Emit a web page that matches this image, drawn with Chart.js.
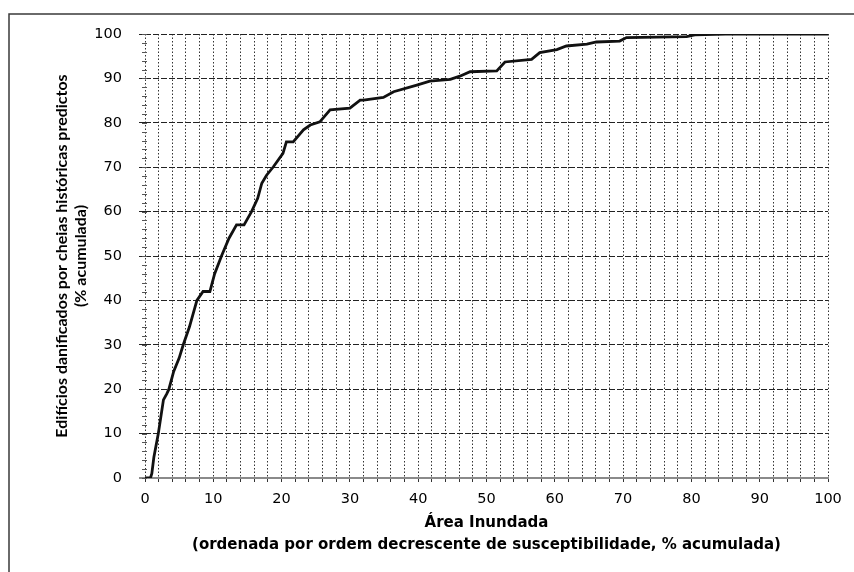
<!DOCTYPE html>
<html>
<head>
<meta charset="utf-8">
<script src="https://cdn.jsdelivr.net/npm/chart.js@4.4.1/dist/chart.umd.min.js"></script>
<style>
  html, body { margin: 0; padding: 0; background: #fff; }
  #wrap { width: 854px; height: 572px; }
</style>
</head>
<body>
<div id="wrap"><canvas id="chart" width="854" height="572"></canvas></div>
<script>
// área inundada acumulada (%)
const areaPct = [0, 0.8, 1.0, 1.3, 1.95, 2.7, 3.2, 3.5, 4.2, 5.0, 5.6, 6.5, 7.6, 8.5, 9.5,
  10.2, 11.2, 12.3, 13.4, 14.5, 15.6, 16.5, 17.1, 17.8, 18.8, 20.2, 20.7, 21.7, 23.2,
  24.2, 25.6, 27.1, 30.0, 31.5, 32.0, 34.9, 36.4, 39.8, 41.7, 44.7, 46.1, 47.6, 51.5,
  52.7, 56.6, 57.8, 60.3, 61.7, 64.7, 66.1, 69.5, 70.5, 79.3, 80.5, 85.0, 100];
// edifícios danificados acumulados (%)
const edificiosPct = [0, 0, 1, 4.7, 10, 17.6, 19, 20, 24, 27, 30, 34, 40, 42, 42,
  46, 50, 54, 57, 57, 60, 63, 66.4, 68.2, 70.1, 73.1, 75.7, 75.7, 78.4,
  79.5, 80.2, 82.9, 83.3, 85.1, 85.1, 85.7, 87, 88.5, 89.4, 89.8, 90.5, 91.5, 91.7,
  93.7, 94.3, 95.8, 96.5, 97.3, 97.7, 98.2, 98.4, 99.2, 99.4, 99.8, 100, 100];

const xTitle = ['Área Inundada', '(ordenada por ordem decrescente de susceptibilidade, % acumulada)'];
const yTitle = ['Edifícios danificados por cheias históricas predictos', '(% acumulada)'];

// moldura + pequenos traços no eixo Y
const framePlugin = {
  id: 'frame',
  beforeDraw(chart) {
    const ctx = chart.ctx;
    ctx.save();
    ctx.fillStyle = '#fff';
    ctx.fillRect(0, 0, chart.width, chart.height);
    ctx.strokeStyle = '#3a3a3a';
    ctx.lineWidth = 1.5;
    ctx.beginPath();
    ctx.moveTo(9, chart.height);
    ctx.lineTo(9, 14);
    ctx.lineTo(chart.width, 14);
    ctx.stroke();
    ctx.restore();
  },
  afterDatasetsDraw(chart) {
    const ctx = chart.ctx;
    const y = chart.scales.y;
    const left = chart.chartArea.left;
    ctx.save();
    ctx.strokeStyle = '#555';
    ctx.lineWidth = 1;
    for (let v = 0; v <= 100; v += 2) {
      const py = Math.round(y.getPixelForValue(v)) + 0.5;
      ctx.beginPath();
      ctx.moveTo(left - 3, py);
      ctx.lineTo(left + 2, py);
      ctx.stroke();
    }
    ctx.restore();
  }
};

const points = areaPct.map((x, i) => ({ x: x, y: edificiosPct[i] }));

new Chart(document.getElementById('chart'), {
  type: 'line',
  data: {
    datasets: [{
      data: points,
      borderColor: '#111',
      borderWidth: 2.8,
      pointRadius: 0,
      tension: 0,
      fill: false
    }]
  },
  options: {
    responsive: false,
    animation: false,
    layout: { padding: { left: 40, top: 34, right: 26, bottom: 0 } },
    plugins: { legend: { display: false }, tooltip: { enabled: false } },
    scales: {
      x: {
        type: 'linear',
        min: 0,
        max: 100,
        afterFit: (s) => { s.height = 94; },
        ticks: {
          stepSize: 2,
          autoSkip: false,
          maxRotation: 0,
          padding: 9,
          color: '#000',
          font: { family: 'DejaVu Sans', size: 14.5 },
          callback: (v) => (v % 10 === 0 ? v : '')
        },
        grid: { color: '#333', lineWidth: 1, tickLength: 4 },
        border: { display: true, color: '#8a8a8a', width: 2, dash: [1.5, 2] },
        title: {
          display: true,
          text: xTitle,
          color: '#000',
          font: { family: 'DejaVu Sans', size: 15, weight: 'bold', lineHeight: 1.45 },
          padding: { top: 0, bottom: 16 }
        }
      },
      y: {
        min: 0,
        max: 100,
        afterFit: (s) => { s.width = 105; },
        ticks: {
          stepSize: 10,
          padding: 17,
          color: '#000',
          font: { family: 'DejaVu Sans', size: 14.5 }
        },
        grid: {
          color: (c) => (c.tick && c.tick.value === 0 ? '#8a8a8a' : '#222'),
          lineWidth: (c) => (c.tick && c.tick.value === 0 ? 2 : 1),
          tickLength: 6
        },
        border: {
          display: false,
          dash: (c) => (c.tick && c.tick.value === 0 ? [] : [6, 2])
        },
        title: {
          display: true,
          text: yTitle,
          color: '#000',
          font: { family: 'Lato', size: 16, weight: 'bold', lineHeight: 1.2 },
          padding: { top: 12, bottom: 0 }
        }
      }
    }
  },
  plugins: [framePlugin]
});
</script>
</body>
</html>
